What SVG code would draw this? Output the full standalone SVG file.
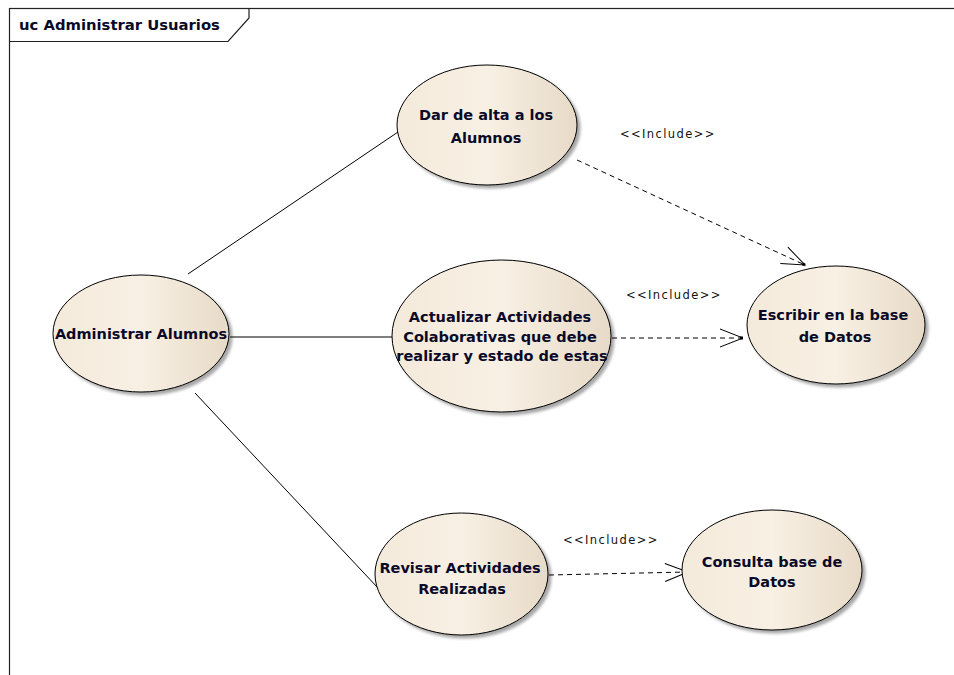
<svg xmlns="http://www.w3.org/2000/svg" width="954" height="675" viewBox="0 0 954 675">
  <defs>
    <linearGradient id="ucFill" x1="0" y1="0" x2="1" y2="0">
      <stop offset="0" stop-color="#f4eadb"/>
      <stop offset="0.5" stop-color="#f8f0e4"/>
      <stop offset="1" stop-color="#e7dac7"/>
    </linearGradient>
    <filter id="shadow" x="-10%" y="-10%" width="125%" height="130%">
      <feGaussianBlur in="SourceAlpha" stdDeviation="1.5"/>
      <feOffset dx="3" dy="3" result="off"/>
      <feComponentTransfer><feFuncA type="linear" slope="0.35"/></feComponentTransfer>
      <feMerge><feMergeNode/><feMergeNode in="SourceGraphic"/></feMerge>
    </filter>
    <marker id="openArrow" markerUnits="userSpaceOnUse" markerWidth="30" markerHeight="24" viewBox="-26 -12 30 24" refX="0" refY="0" orient="auto">
      <path d="M-23,-9 L0,0 L-23,9" fill="none" stroke="#000" stroke-width="1"/>
      <rect x="-3" y="-1.5" width="3" height="3" fill="#000"/>
    </marker>
  </defs>
  <style>
    .frame { fill: none; stroke: #222; stroke-width: 1.2; }
    .title { font-family: "DejaVu Sans", Verdana, sans-serif; font-weight: bold; font-size: 14.8px; fill: #0a0a28; }
    .uc ellipse { fill: url(#ucFill); stroke: #000; stroke-width: 1; filter: url(#shadow); }
    .uc text { font-family: "DejaVu Sans", Verdana, sans-serif; font-weight: bold; font-size: 14.5px; fill: #0a0a28; text-anchor: middle; }
    .assoc { stroke: #000; stroke-width: 1; fill: none; }
    .incl { stroke: #000; stroke-width: 1; fill: none; stroke-dasharray: 5 4; marker-end: url(#openArrow); }
    .stereo { font-family: "DejaVu Sans", Verdana, sans-serif; font-size: 11.5px; letter-spacing: 1.4px; fill: #111; }
  </style>

  <rect width="954" height="675" fill="#fff"/>

  <!-- diagram frame with name tab -->
  <g id="frame">
    <rect class="frame" x="9.5" y="8.5" width="1000" height="1000"/>
    <path class="frame" d="M9.5,41.5 H228 L249,18 V8.5"/>
    <text class="title" x="19" y="30">uc Administrar Usuarios</text>
  </g>

  <!-- associations and include relationships -->
  <g id="connectors">
    <line class="assoc" x1="188" y1="274" x2="398" y2="132"/>
    <line class="assoc" x1="230" y1="337" x2="393" y2="337"/>
    <line class="assoc" x1="195" y1="393" x2="378" y2="588"/>
    <line class="incl" x1="577" y1="160" x2="805" y2="265"/>
    <line class="incl" x1="612" y1="338" x2="743" y2="338"/>
    <line class="incl" x1="549" y1="575" x2="688" y2="572"/>
    <text class="stereo" x="620" y="138">&lt;&lt;Include&gt;&gt;</text>
    <text class="stereo" x="626" y="299">&lt;&lt;Include&gt;&gt;</text>
    <text class="stereo" x="563" y="544">&lt;&lt;Include&gt;&gt;</text>
  </g>

  <g id="uc-administrar-alumnos" class="uc">
    <ellipse cx="141" cy="333.5" rx="88" ry="58.5"/>
    <text x="141" y="339">Administrar Alumnos</text>
  </g>

  <g id="uc-dar-de-alta" class="uc">
    <ellipse cx="487" cy="125" rx="90" ry="60"/>
    <text x="486" y="120">Dar de alta a los</text>
    <text x="486" y="143">Alumnos</text>
  </g>

  <g id="uc-actualizar" class="uc">
    <ellipse cx="501.5" cy="336" rx="109.5" ry="76"/>
    <text x="500" y="322">Actualizar Actividades</text>
    <text x="500" y="342">Colaborativas que debe</text>
    <text x="502" y="361">realizar y estado de estas</text>
  </g>

  <g id="uc-escribir" class="uc">
    <ellipse cx="836" cy="325" rx="89" ry="59"/>
    <text x="833" y="320">Escribir en la base</text>
    <text x="835" y="342">de Datos</text>
  </g>

  <g id="uc-revisar" class="uc">
    <ellipse cx="461.5" cy="574" rx="86.5" ry="61"/>
    <text x="460" y="573">Revisar Actividades</text>
    <text x="462" y="594">Realizadas</text>
  </g>

  <g id="uc-consulta" class="uc">
    <ellipse cx="772" cy="570" rx="90" ry="60"/>
    <text x="772" y="567">Consulta base de</text>
    <text x="772" y="587">Datos</text>
  </g>
</svg>
